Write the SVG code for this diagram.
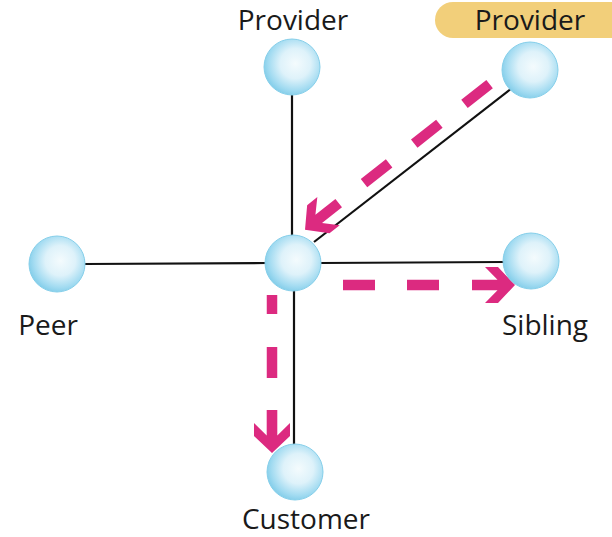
<svg xmlns="http://www.w3.org/2000/svg" width="612" height="537" viewBox="0 0 612 537">
<defs>
<radialGradient id="ball" cx="0.56" cy="0.44" r="0.6">
<stop offset="0" stop-color="#f4fbfd"/>
<stop offset="0.45" stop-color="#def2fa"/>
<stop offset="0.8" stop-color="#a2dbf1"/>
<stop offset="1" stop-color="#7ecbe8"/>
</radialGradient>
<path id="head" d="M0,0 L-17,-18 L-30,-18 L-17.5,-5.3 L-43,-5.3 L-43,5.3 L-17.5,5.3 L-30,18 L-17,18 Z"/>
</defs>
<style>
.lbl{font-family:"Open Sans","Liberation Sans",sans-serif;font-size:28px;fill:#1a1a1a;text-anchor:middle}
.edge{stroke:#111;stroke-width:2.2;fill:none}
.flow{stroke:#dc2a80;stroke-width:10.5;fill:none}
.head{fill:#dc2a80}
.node{fill:url(#ball);stroke:#86cfea;stroke-width:1}
</style>
<g id="connectors">
<line class="edge" x1="292" y1="95" x2="292" y2="236"/>
<line class="edge" x1="512" y1="88" x2="314" y2="242"/>
<line class="edge" x1="85" y1="264" x2="266" y2="263"/>
<line class="edge" x1="321" y1="263" x2="504" y2="262"/>
<line class="edge" x1="294" y1="290" x2="294" y2="446"/>
<line class="flow" x1="489.6" y1="84.1" x2="360" y2="186.4" stroke-dasharray="32 32"/>
<use href="#head" class="head" transform="translate(305,229.8) rotate(141.6)"/>
<line class="flow" x1="343" y1="285" x2="439" y2="285" stroke-dasharray="32 32"/>
<use href="#head" class="head" transform="translate(515,285)"/>
<line class="flow" x1="272" y1="295" x2="272" y2="314"/>
<line class="flow" x1="272" y1="347" x2="272" y2="378"/>
<use href="#head" class="head" transform="translate(272,453) rotate(90)"/>
</g>
<g id="provider-top">
<circle class="node" cx="292" cy="67" r="28"/>
<text class="lbl" x="293" y="30">Provider</text>
</g>
<g id="provider-right">
<rect x="435" y="2" width="200" height="36" rx="18" fill="#f2cf7a"/>
<text class="lbl" x="530" y="30">Provider</text>
<circle class="node" cx="530" cy="70" r="28"/>
</g>
<g id="center">
<circle class="node" cx="293" cy="263" r="28"/>
</g>
<g id="peer">
<circle class="node" cx="57" cy="264" r="28"/>
<text class="lbl" x="48" y="335">Peer</text>
</g>
<g id="sibling">
<circle class="node" cx="531" cy="261" r="28"/>
<text class="lbl" x="545" y="335">Sibling</text>
</g>
<g id="customer">
<circle class="node" cx="295" cy="472" r="28"/>
<text class="lbl" x="306" y="529">Customer</text>
</g>
</svg>
